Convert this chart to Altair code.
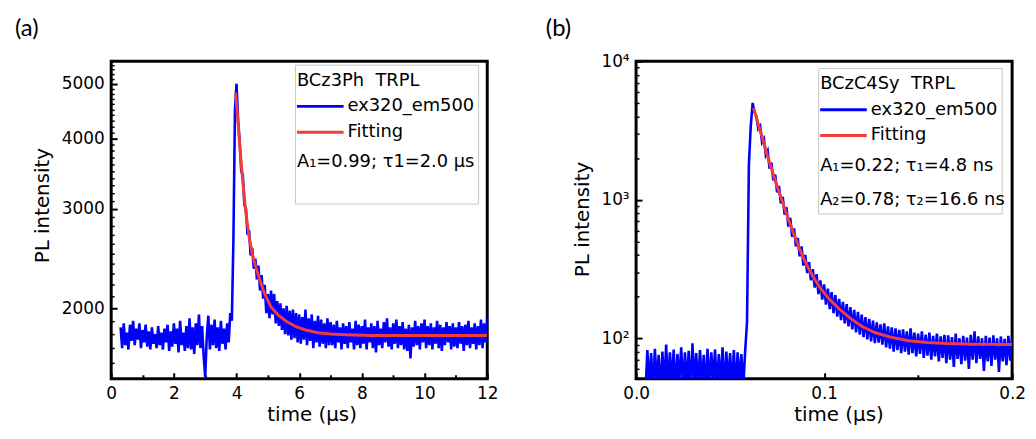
import altair as alt
import numpy as np
import pandas as pd

# ---------------- panel (a): BCz3Ph ----------------
a_t0, a_dt = 0.30, 0.05
a_trace = [
    # baseline 0.30 - 3.80
    1850, 1700, 1880, 1720, 1810, 1690, 1870, 1750, 1900, 1720,
    1840, 1760, 1880, 1700, 1830, 1740, 1870, 1710, 1820, 1690,
    1850, 1730, 1800, 1700, 1860, 1720, 1810, 1690, 1840, 1740,
    1870, 1680, 1820, 1710, 1880, 1730, 1840, 1670, 1900, 1720,
    1810, 1680, 1860, 1700, 1920, 1690, 1850, 1660, 1880, 1720,
    1950, 1700, 1860, 1650, 1510, 1780, 1940, 1690, 1870, 1720,
    1910, 1700, 1850, 1680, 1900, 1730, 1840, 1690, 1880, 1740,
    1960,
    # rise / peak 3.85 - 4.05
    1900, 2640, 4500, 5000, 4300,
    # decay 4.10 - 7.00
    3950, 3500, 3450, 3050, 3000, 2700, 2750, 2480, 2560, 2350,
    2450, 2250, 2380, 2150, 2290, 2080, 2200, 1960, 2120, 1920,
    2150, 1950, 2120, 1880, 2060, 1860, 2040, 1830, 2000, 1800,
    2020, 1790, 1980, 1760, 1990, 1770, 1960, 1740, 1950, 1730,
    1930, 1760, 1990, 1720, 1920, 1750, 1950, 1700, 1900, 1740,
    1940, 1710, 1910, 1730, 1880, 1700, 1920, 1720, 1890,
    # tail 7.05 - 12.00
    1720, 1870, 1700, 1900, 1740, 1850, 1690, 1880, 1730, 1860,
    1700, 1890, 1740, 1840, 1690, 1900, 1720, 1870, 1700, 1860,
    1730, 1910, 1690, 1850, 1740, 1880, 1700, 1860, 1670, 1900,
    1720, 1840, 1700, 1890, 1740, 1920, 1710, 1850, 1690, 1880,
    1730, 1910, 1700, 1860, 1720, 1890, 1690, 1840, 1680, 1870,
    1630, 1850, 1710, 1900, 1720, 1860, 1690, 1880, 1740, 1910,
    1700, 1860, 1720, 1880, 1690, 1850, 1730, 1900, 1700, 1870,
    1680, 1850, 1720, 1890, 1740, 1860, 1690, 1880, 1710, 1850,
    1700, 1890, 1730, 1860, 1680, 1870, 1720, 1900, 1700, 1850,
    1730, 1880, 1690, 1860, 1720, 1910, 1700, 1880, 1740, 1920,
]
a_fit_t = [3.97, 4.05, 4.10, 4.20, 4.30, 4.40, 4.50, 4.60, 4.75, 4.90, 5.10, 5.35,
           5.60, 5.90, 6.20, 6.60, 7.00, 7.50, 8.30, 9.00, 10.00, 11.00, 12.00]
a_fit = [4820, 4250, 3900, 3350, 2950, 2680, 2500, 2380, 2240, 2120, 2010, 1940,
         1895, 1855, 1830, 1810, 1800, 1795, 1790, 1790, 1790, 1790, 1790]

# ---------------- panel (b): BCzC4Sy ----------------
b_t0, b_dt = 0.005, 0.001
b_trace = [
    # baseline 0.005 - 0.057
    40, 82, 45, 78, 42, 84, 47, 76, 40, 80,
    44, 90, 43, 79, 46, 83, 41, 77, 48, 86,
    42, 79, 45, 81, 40, 92, 47, 78, 43, 82,
    46, 76, 41, 84, 44, 79, 48, 83, 42, 77,
    45, 86, 40, 80, 46, 78, 43, 82, 41, 79,
    47, 77, 44,
    # rise / peak 0.058 - 0.063
    80, 130, 1800, 3400, 5000, 4300,
    # decay 0.064 - 0.127
    4000, 3250, 3400, 2600, 2750, 2100, 2250, 1680, 1850, 1380,
    1520, 1130, 1260, 940, 1050, 780, 880, 640, 740, 540,
    620, 460, 530, 390, 460, 335, 400, 295, 355, 262,
    315, 232, 290, 208, 262, 190, 245, 175, 228, 162,
    215, 152, 205, 143, 192, 135, 183, 128, 176, 122,
    168, 116, 160, 110, 155, 106, 148, 102, 142, 98,
    138, 95, 134, 92,
    # tail 0.128 - 0.200
    130, 93, 126, 90, 128, 86, 122, 84, 120, 80,
    118, 82, 115, 78, 116, 80, 112, 76, 118, 78,
    110, 74, 108, 77, 112, 72, 106, 75, 110, 70,
    104, 74, 108, 68, 103, 72, 106, 66, 105, 70,
    102, 62, 108, 71, 100, 65, 104, 69, 101, 60,
    106, 70, 112, 66, 103, 71, 100, 58, 104, 68,
    101, 63, 105, 70, 100, 57, 103, 68, 99, 64,
    104, 69, 102,
]
b_fit_t = [0.0625, 0.065, 0.0675, 0.070, 0.0725, 0.075, 0.078, 0.081, 0.084, 0.087,
           0.090, 0.094, 0.098, 0.103, 0.108, 0.114, 0.120, 0.127, 0.135, 0.145,
           0.155, 0.165, 0.180, 0.200]
b_fit = [4600, 3500, 2700, 2050, 1600, 1250, 950, 720, 560, 440,
         355, 280, 230, 190, 163, 139, 122, 110, 102, 96,
         93, 91.5, 90.5, 90]

# ---------------- ticks ----------------
a_xticks = [0, 2, 4, 6, 8, 10, 12]
a_xminor = [1, 3, 5, 7, 9, 11]
a_yticks = [2000, 3000, 4000, 5000]
a_yminor = [v for v in range(1600, 5500, 100) if v % 1000 != 0]
b_xticks = [0.0, 0.1, 0.2]
b_xminor = [0.05, 0.15]
b_yticks = [100, 1000, 10000]
b_yminor = [m * 10 ** k for k in (1, 2, 3) for m in range(2, 10) if 51 <= m * 10 ** k <= 10000]

FONT = "DejaVu Sans"
BLUE = "#0000FF"
RED = "#F03C3C"
W, H = 379, 320


def one(**kw):
    return pd.DataFrame({k: [v] for k, v in kw.items()})


def panel(t, v, ft, fv, xdom, ydom, xt, xm, yt, ym, xfmt, ylabexpr,
          letter, letter_dx, xtitle_x, ytitle_y, box, title_txt, params):
    trace = pd.DataFrame({"t": t, "v": v})
    fit = pd.DataFrame({"t": ft, "v": fv})
    xs = alt.Scale(domain=xdom, nice=False, zero=False)
    ys = alt.Scale(type="log", domain=ydom, nice=False)
    common = dict(domain=False, grid=False, tickColor="black",
                  labelFont=FONT, labelFontSize=17, labelColor="black",
                  titleFont=FONT, titleFontSize=20, titleFontWeight="normal",
                  titleColor="black", labelOverlap=False)
    ax_x = alt.Axis(orient="bottom", values=xt, format=xfmt, tickSize=6, offset=-6,
                    tickWidth=2, labelPadding=7, labelFlush=False,
                    title="time (μs)", titlePadding=3, titleX=xtitle_x, **common)
    ykw = dict(labelExpr=ylabexpr) if ylabexpr else dict(format="d")
    ax_y = alt.Axis(orient="left", values=yt, tickSize=6, offset=-6, tickWidth=2,
                    labelPadding=7, title="PL intensity", titlePadding=9,
                    titleY=ytitle_y, **ykw, **common)
    mx = alt.Axis(orient="bottom", values=xm, labels=False, tickSize=4, offset=-4,
                  tickWidth=2, title=None, domain=False, grid=False, tickColor="black")
    my = alt.Axis(orient="left", values=ym, labels=False, tickSize=3, offset=-3,
                  tickWidth=1.5, title=None, domain=False, grid=False, tickColor="black")

    blue = alt.Chart(trace).mark_line(color=BLUE, strokeWidth=2.6, clip=True).encode(
        x=alt.X("t:Q", scale=xs, axis=ax_x), y=alt.Y("v:Q", scale=ys, axis=ax_y))
    red = alt.Chart(fit).mark_line(color=RED, strokeWidth=3, clip=True).encode(
        x=alt.X("t:Q", scale=xs, axis=mx), y=alt.Y("v:Q", scale=ys, axis=my))

    bx0, bx1, by0, by1 = box
    rect = alt.Chart(one(k=0)).mark_rect(fill="white", stroke="#C8C8C8", strokeWidth=1).encode(
        x=alt.value(bx0), x2=alt.value(bx1), y=alt.value(by0), y2=alt.value(by1))

    lx = bx0 + 1.5
    layers = [blue, red, rect]

    def txt(s, x, y, size=18, font=FONT):
        return alt.Chart(one(s=s)).mark_text(align="left", baseline="middle", font=font,
                                             fontSize=size, color="black").encode(
            x=alt.value(x), y=alt.value(y), text="s:N")

    layers.append(txt(title_txt, lx, by0 + 16))
    row1 = by0 + 41.5
    row2 = by0 + 67.5
    layers.append(alt.Chart(one(k=0)).mark_rule(color=BLUE, strokeWidth=3).encode(
        x=alt.value(lx), x2=alt.value(lx + 47), y=alt.value(row1)))
    layers.append(alt.Chart(one(k=0)).mark_rule(color=RED, strokeWidth=3).encode(
        x=alt.value(lx), x2=alt.value(lx + 47), y=alt.value(row2)))
    layers.append(txt("ex320_em500", lx + 51, row1))
    layers.append(txt("Fitting", lx + 51, row2))
    for i, p in enumerate(params):
        layers.append(txt(p, lx, by0 + 98 + 35 * i))
    lt = alt.Chart(one(s=letter)).mark_text(align="left", baseline="top", font="Lato",
                                            fontSize=24, color="black").encode(
        x=alt.value(letter_dx), y=alt.value(-44), text="s:N")
    layers.append(lt)

    return alt.layer(*layers).resolve_axis(x="independent", y="independent").properties(
        width=W, height=H)


ta = np.round(a_t0 + a_dt * np.arange(len(a_trace)), 3)
tb = np.round(b_t0 + b_dt * np.arange(len(b_trace)), 4)

pa = panel(ta, a_trace, a_fit_t, a_fit, [0, 12], [1500, 5480],
           a_xticks, a_xminor, a_yticks, a_yminor, "d", None,
           "(a)", -97, 202, 145, (185.7, 370.3, 4, 144),
           "BCz3Ph\u00a0\u00a0TRPL", ["A\u2081=0.99; \u03c41=2.0 μs"])

pb = panel(tb, b_trace, b_fit_t, b_fit, [0, 0.2], [51, 10000],
           b_xticks, b_xminor, b_yticks, b_yminor, ".1f",
           "datum.value == 100 ? '10\u00b2' : datum.value == 1000 ? '10\u00b3' : '10\u2074'",
           "(b)", -91, 204, 159, (184, 369, 7.3, 154),
           "BCzC4Sy\u00a0\u00a0TRPL",
           ["A\u2081=0.22; \u03c4\u2081=4.8 ns", "A\u2082=0.78; \u03c4\u2082=16.6 ns"])

chart = alt.hconcat(pa, pb, spacing=44).resolve_scale(x="independent", y="independent").properties(
    padding={"left": 5, "top": 6, "right": 0, "bottom": 0},
    background="white",
).configure_view(stroke="black", strokeWidth=3)

chart.save("out.html", embed_options={"renderer": "svg", "actions": False})
